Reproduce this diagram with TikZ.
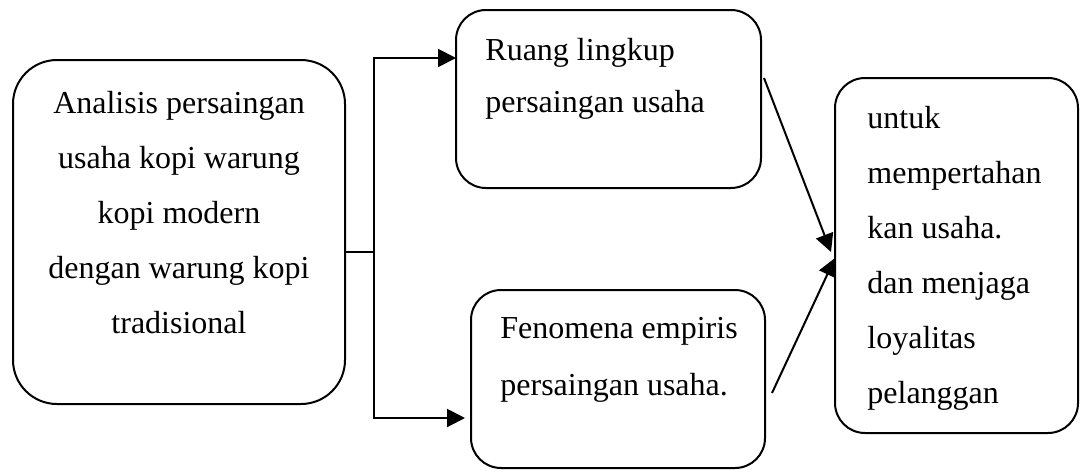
\documentclass[tikz,border=0pt]{standalone}
\usepackage{fontspec}
\setmainfont{Liberation Serif}
\usetikzlibrary{arrows.meta}

\tikzset{
  box/.style={draw, line width=1pt, inner sep=0pt},
  lbl/.style={inner sep=0pt, font=\fontsize{16}{27.5}\selectfont},
  arr/.style={line width=1pt, -{Triangle[length=9pt,width=9pt]}},
  lnk/.style={line width=1pt}
}

\begin{document}
\begin{tikzpicture}[x=0.5pt,y=0.5pt,yscale=-1,xscale=1]
    \useasboundingbox (0,0) rectangle (1085,471);

    %Rounded Rect [id:analisis]
    \node (analisis) [box, rounded corners=22pt, minimum width=166pt, minimum height=172pt] at (179,232) {};
    %Rounded Rect [id:ruang]
    \node (ruang) [box, rounded corners=15pt, minimum width=152.5pt, minimum height=89pt] at (608.5,99) {};
    %Rounded Rect [id:fenomena]
    \node (fenomena) [box, rounded corners=15pt, minimum width=147pt, minimum height=89pt] at (618,379) {};
    %Rounded Rect [id:tujuan]
    \node (tujuan) [box, rounded corners=15pt, minimum width=121.5pt, minimum height=177.5pt] at (956.5,255.5) {};

    % Text Node (base = last line)
    \node (analisis text) [lbl, anchor=base, align=center] at (179,333) {Analisis persaingan\\usaha kopi warung\\kopi modern\\dengan warung kopi\\tradisional};
    % Text Node
    \node (ruang text) [lbl, anchor=base west, align=left, font=\fontsize{16}{26}\selectfont] at (485,112) {Ruang lingkup\\persaingan usaha};
    % Text Node
    \node (fenomena text) [lbl, anchor=base west, align=left, font=\fontsize{16}{28.5}\selectfont] at (500,395) {Fenomena empiris\\persaingan usaha.};
    % Text Node
    \node (tujuan text) [lbl, anchor=base west, align=left] at (867,403) {untuk\\mempertahan\\kan usaha.\\dan menjaga\\loyalitas\\pelanggan};

    %Connector points
    \coordinate (split) at (374,252);
    \coordinate (ruang in) at (456,58);
    \coordinate (fenomena in) at (465,418);
    \coordinate (ruang out) at (764,78);
    \coordinate (fenomena out) at (772,393);
    \coordinate (tujuan in a) at (831,252);
    \coordinate (tujuan in b) at (835,258);

    %Straight Lines
    \draw [lnk] (analisis.east |- split) -- (split);
    \draw [arr] (split) |- (ruang in);
    \draw [arr] (split) |- (fenomena in);
    \draw [arr] (ruang out) -- (tujuan in a);
    \draw [arr] (fenomena out) -- (tujuan in b);
\end{tikzpicture}
\end{document}
